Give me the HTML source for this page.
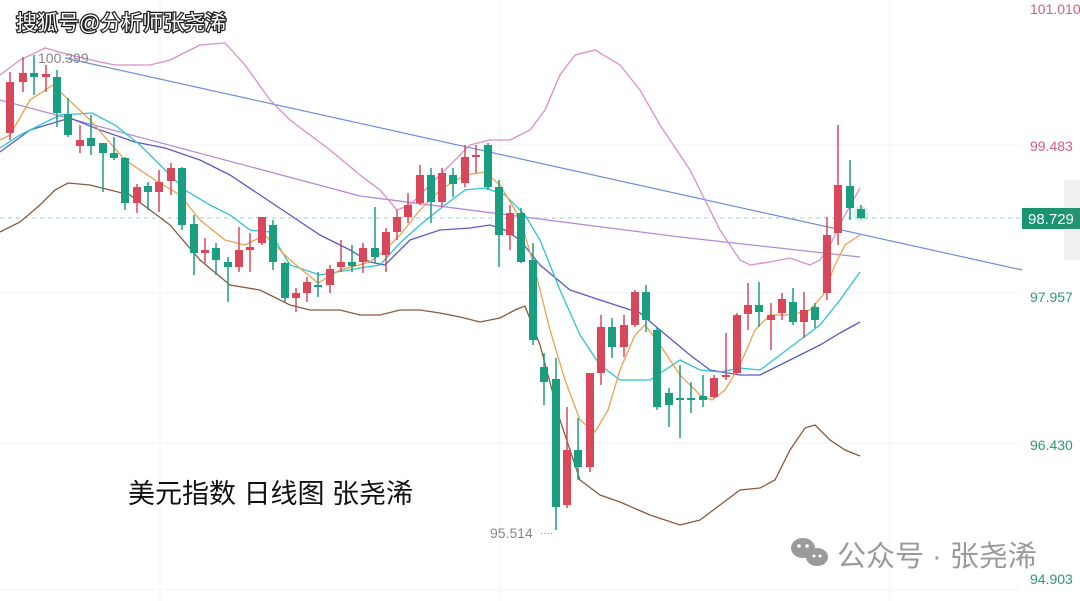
<!DOCTYPE html>
<html><head><meta charset="utf-8"><style>
html,body{margin:0;padding:0;background:#fff;}
body{width:1080px;height:601px;overflow:hidden;position:relative;font-family:"Liberation Sans","Noto Sans CJK SC",sans-serif;}
svg{position:absolute;left:0;top:0;}
</style></head><body>
<svg id="s" width="1080" height="601" viewBox="0 0 1080 601" xmlns="http://www.w3.org/2000/svg">
<g stroke="#f3f3f3" stroke-width="1">
<line x1="0" y1="145" x2="1020" y2="145"/><line x1="0" y1="293" x2="1020" y2="293"/><line x1="0" y1="443" x2="1020" y2="443"/><line x1="0" y1="590" x2="1020" y2="590"/>
<line x1="160" y1="0" x2="160" y2="601"/><line x1="500" y1="0" x2="500" y2="601"/><line x1="890" y1="0" x2="890" y2="601"/>
</g>
<line x1="0" y1="218" x2="1020" y2="218" stroke="#9ecfc4" stroke-width="1" stroke-dasharray="4,4"/>
<line x1="65" y1="58" x2="1022" y2="270" stroke="#6f8fd8" stroke-width="1.2"/>
<polyline fill="none" stroke="#b48ad8" stroke-width="1.3" points="0,100 360,196 680,237 860,257"/>
<polyline fill="none" stroke="#d890c8" stroke-width="1.3" points="0,75 20,60 45,48 70,55 100,62 115,65 150,65 170,60 200,45 225,43 245,65 270,100 290,120 310,135 330,150 360,175 380,190 397,210 410,205 430,185 450,165 470,145 490,140 510,140 530,130 545,110 560,75 575,55 595,50 620,65 640,90 660,125 690,170 705,200 720,230 740,260 750,265 770,262 790,258 810,265 820,260 830,245 845,215 860,188"/>
<polyline fill="none" stroke="#8a5a3c" stroke-width="1.3" points="0,232 20,222 40,205 55,190 68,183 90,185 110,190 130,195 150,210 170,225 200,260 230,285 260,290 290,305 310,310 340,310 360,315 380,315 400,310 420,310 440,313 460,317 480,322 500,318 515,310 525,306 540,345 560,420 580,480 600,495 620,502 650,515 680,525 700,520 720,505 740,490 760,488 775,480 790,450 805,428 815,425 830,440 845,450 860,456"/>
<polyline fill="none" stroke="#5a5ac8" stroke-width="1.3" points="0,152 30,130 70,118 100,130 135,142 165,148 200,160 230,175 260,195 290,215 320,235 350,250 370,262 385,265 410,240 440,230 470,228 490,225 505,230 520,240 540,265 570,290 600,300 640,313 660,330 690,355 710,370 740,375 760,375 790,360 820,345 840,333 860,322"/>
<polyline fill="none" stroke="#2cc4d0" stroke-width="1.3" points="0,148 20,135 60,115 92,113 115,125 140,145 160,165 185,190 210,205 230,215 250,230 270,232 290,265 320,275 360,268 380,265 400,243 420,225 445,205 465,190 485,188 505,195 525,215 540,240 560,290 580,335 600,365 620,380 650,380 665,370 680,360 700,370 720,372 740,368 760,370 780,355 800,340 820,325 840,300 860,272"/>
<polyline fill="none" stroke="#f0a050" stroke-width="1.3" points="0,140 10,135 30,100 53,85 90,120 125,160 155,180 180,195 200,220 225,240 245,245 265,235 290,260 318,283 340,270 370,262 385,250 400,235 420,210 440,190 465,175 485,172 500,185 515,210 525,235 535,270 550,330 565,380 580,420 595,432 608,410 620,370 635,335 645,325 660,345 680,375 700,395 712,400 725,390 740,365 755,330 770,315 790,315 810,310 823,295 835,265 845,245 860,235"/>
<g id="c"></g>
<circle cx="861" cy="214" r="8" fill="#1a9e80" opacity="0.15"/>
<text x="38" y="63" font-size="14" fill="#888">100.399</text>
<text x="490" y="538" font-size="14" fill="#888">95.514</text>
<text x="540" y="536" font-size="10" fill="#888">····</text>
<g font-size="14">
<text x="1030" y="14" fill="#d0607a">101.010</text>
<text x="1030" y="151" fill="#d0607a">99.483</text>
<text x="1030" y="302" fill="#2a9a7a">97.957</text>
<text x="1030" y="450" fill="#2a9a7a">96.430</text>
<text x="1030" y="584" fill="#2a9a7a">94.903</text>
</g>
<rect x="1022" y="208" width="58" height="21" fill="#1a9470"/>
<text x="1028" y="224" font-size="15" fill="#fff">98.729</text>
<rect x="1064" y="180" width="16" height="80" fill="#888" opacity="0.12"/>
<text x="128" y="503" font-size="27" fill="#111">美元指数 日线图 张尧浠</text>
<g fill="#9a9a9a"><ellipse cx="803" cy="548" rx="12" ry="10"/><ellipse cx="817" cy="557" rx="11" ry="9"/></g>
<g fill="#fff"><circle cx="799" cy="546" r="1.8"/><circle cx="807" cy="546" r="1.8"/><circle cx="814" cy="556" r="1.5"/><circle cx="820" cy="556" r="1.5"/></g>
<text x="837" y="566" font-size="29" fill="#9a9a9a">公众号 · 张尧浠</text>
<text x="16" y="30" font-size="21" fill="#fff" stroke="#222" stroke-width="2.5" paint-order="stroke">搜狐号@分析师张尧浠</text>
</svg>
<script>
var d=[[10,"r",82,133,72,140],[23,"r",73,82,57,92],[34,"g",73,77,55,95],[46,"r",74,77,65,92],[57,"g",77,113,70,127],[68,"g",114,135,98,137],[80,"r",140,146,125,153],[91,"g",138,146,115,155],[103,"g",143,153,143,192],[114,"g",153,158,137,160],[125,"g",158,203,157,210],[137,"r",187,203,184,213],[148,"g",186,192,182,210],[159,"r",182,192,170,212],[171,"r",168,181,163,195],[182,"g",168,225,167,230],[194,"g",224,253,215,275],[205,"r",250,253,238,263],[216,"g",248,260,243,275],[228,"g",262,267,257,302],[239,"r",250,267,227,272],[250,"r",247,250,233,272],[262,"r",217,243,217,245],[273,"g",225,262,220,270],[285,"g",263,298,262,302],[296,"r",293,298,288,312],[307,"r",282,293,277,302],[318,"g",285,287,272,297],[330,"r",269,285,265,293],[341,"r",262,267,240,272],[352,"g",262,266,245,272],[363,"r",248,262,243,273],[375,"g",248,257,207,263],[386,"r",232,255,228,272],[397,"r",217,232,210,240],[408,"r",205,217,193,223],[420,"r",175,203,165,205],[431,"g",175,202,168,223],[442,"r",173,202,168,207],[453,"g",175,184,168,197],[465,"r",157,183,145,187],[476,"r",155,157,145,173],[488,"g",145,187,143,190],[499,"g",187,235,180,267],[510,"r",213,235,205,250],[521,"g",213,262,208,263],[533,"g",260,340,243,345],[544,"g",367,382,353,405],[556,"g",379,507,358,530],[567,"r",450,505,407,508],[578,"g",450,467,418,480],[590,"r",373,467,373,472],[601,"r",327,373,315,385],[612,"g",327,347,318,358],[624,"r",325,347,315,357],[635,"r",292,325,290,327],[646,"g",292,320,285,332],[657,"g",330,407,328,410],[669,"g",393,405,388,427],[680,"g",398,400,365,438],[691,"g",398,400,382,413],[703,"g",396,400,375,407],[714,"r",378,397,375,398],[726,"r",375,377,333,380],[737,"r",315,373,313,375],[748,"r",305,314,283,330],[759,"g",305,312,282,327],[771,"r",315,320,303,350],[782,"r",299,313,293,320],[793,"g",302,322,288,325],[804,"r",310,322,292,338],[815,"g",307,320,303,328],[827,"r",235,293,217,300],[838,"r",185,233,125,245],[850,"g",186,208,160,220],[861,"g",209,218,205,219]];
var h="";d.forEach(function(c){var col=c[1]=="r"?"#d9485a":"#1a9e80";h+='<line x1="'+c[0]+'" x2="'+c[0]+'" y1="'+c[4]+'" y2="'+c[5]+'" stroke="'+col+'" stroke-width="1.5"/>';h+='<rect x="'+(c[0]-4)+'" y="'+c[2]+'" width="8" height="'+Math.max(2,c[3]-c[2])+'" fill="'+col+'"/>';});
document.getElementById("c").innerHTML=h;
</script>
</body></html>
